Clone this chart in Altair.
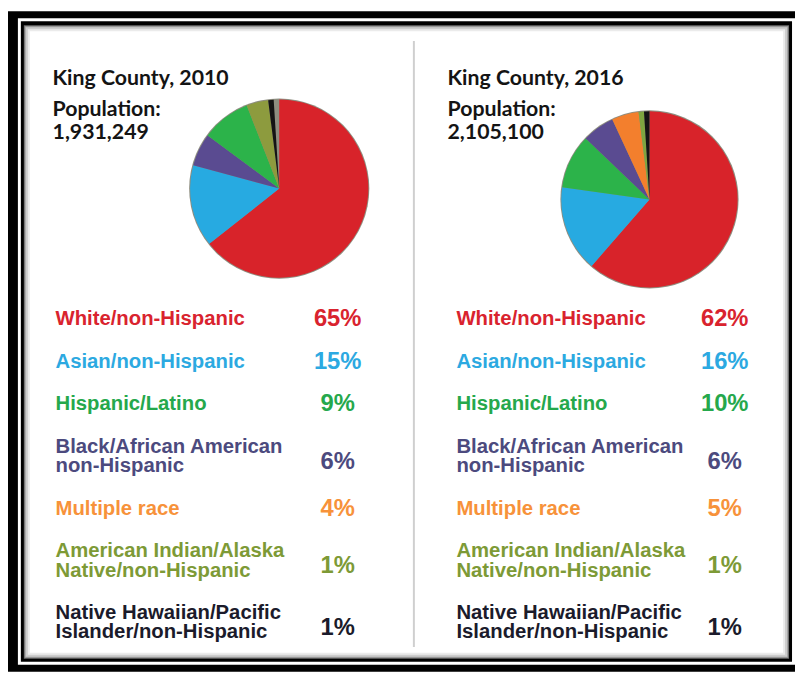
import altair as alt
import pandas as pd

# ---------------- data ----------------
categories = [
    "White/non-Hispanic",
    "Asian/non-Hispanic",
    "Hispanic/Latino",
    "Black/African American\nnon-Hispanic",
    "Multiple race",
    "American Indian/Alaska\nNative/non-Hispanic",
    "Native Hawaiian/Pacific\nIslander/non-Hispanic",
]
pct_2010 = [65, 15, 9, 6, 4, 1, 1]
pct_2016 = [62, 16, 10, 6, 5, 1, 1]
populations = {2010: 1931249, 2016: 2105100}

label_colors = ["#d9232e", "#2ca9e1", "#25a84c", "#4c4a7e", "#f7923a", "#7d9a36", "#1b1b2b"]

# slice order of each pie, clockwise from 12 o'clock
pie_2010_order = [
    "White/non-Hispanic", "Asian/non-Hispanic", "Black/African American\nnon-Hispanic",
    "Hispanic/Latino", "Multiple race", "Native Hawaiian/Pacific\nIslander/non-Hispanic",
]
pie_2010_colors = ["#d8232a", "#27aae1", "#5a4b91", "#2cb34a", "#8d9b3e", "#141414"]
pie_2016_order = [
    "White/non-Hispanic", "Asian/non-Hispanic", "Hispanic/Latino",
    "Black/African American\nnon-Hispanic", "Multiple race",
    "American Indian/Alaska\nNative/non-Hispanic", "Native Hawaiian/Pacific\nIslander/non-Hispanic",
]
pie_2016_colors = ["#d8232a", "#27aae1", "#2cb34a", "#5a4b91", "#f37f2d", "#7ea540", "#141414"]

# ---------------- tables ----------------
pct_by_year = {2010: dict(zip(categories, pct_2010)), 2016: dict(zip(categories, pct_2016))}

# text layout: lines inside a label are LH apart, label blocks are GAP apart
LH, GAP = 19.5, 43
rows = []
for year, vals in ((2010, pct_2010), (2016, pct_2016)):
    first = 0.0
    for i, (cat, v) in enumerate(zip(categories, vals)):
        lines = cat.count("\n") + 1
        rows.append({"year": year, "idx": i, "category": cat, "pct": v,
                     "label": f"{v}%",
                     "slot": first + 1,
                     "pslot": first + 15 * (lines - 1) + 1})
        first += (lines - 1) * LH + GAP
rows_df = pd.DataFrame(rows)

pie10 = pd.DataFrame({"slice": pie_2010_order,
                      "value": [pct_by_year[2010][c] for c in pie_2010_order],
                      "idx": list(range(len(pie_2010_order)))})
pie16 = pd.DataFrame({"slice": pie_2016_order,
                      "value": [pct_by_year[2016][c] for c in pie_2016_order],
                      "idx": list(range(len(pie_2016_order)))})

deco = pd.DataFrame({"a": [0]})

W, H = 795, 667


def rect(x, y, x2, y2, color):
    return alt.Chart(deco).mark_rect(color=color).encode(
        x=alt.value(x), x2=alt.value(x2), y=alt.value(y), y2=alt.value(y2))


def text(t, x, y, size, color="#141414"):
    return alt.Chart(deco).mark_text(
        text=t, align="left", baseline="alphabetic", font="Lato",
        fontWeight="bold", fontSize=size, color=color).encode(x=alt.value(x), y=alt.value(y))


layers = [
    rect(0, 0, W, H, "#000000"),
    rect(10, 7, W, 660, "#ffffff"),
    rect(13, 10, 792, 657, "#000000"),
    rect(16, 14, 789, 654, "#6f6f6f"),
    rect(17, 15, 788, 653, "#a5a5a5"),
    rect(18, 16, 787, 652, "#cdcdcd"),
    rect(20, 18, 785, 650, "#ebebeb"),
    rect(22, 20, 783, 648, "#ffffff"),
    alt.Chart(deco).mark_rule(color="#cfcfcf", strokeWidth=2).encode(
        x=alt.value(410), y=alt.value(30), y2=alt.value(642)),
]

pie_centers = {2010: (274, 179, 90), 2016: (648, 190, 89)}
head_x = {2010: 45, 2016: 444}
for year, pdf, order, cols in ((2010, pie10, pie_2010_order, pie_2010_colors),
                               (2016, pie16, pie_2016_order, pie_2016_colors)):
    cx, cy, r = pie_centers[year]
    layers.append(
        alt.Chart(deco).mark_arc(radius=r + 1, theta=0, theta2=6.2832, color="#8e8e80")
        .encode(x=alt.value(cx), y=alt.value(cy)))
    layers.append(
        alt.Chart(pdf).mark_arc(radius=r).encode(
            theta=alt.Theta("value:Q", stack=True),
            order=alt.Order("idx:Q", sort="ascending"),
            color=alt.Color("slice:N", scale=alt.Scale(domain=order, range=cols), legend=None),
            x=alt.value(cx), y=alt.value(cy)))
    hx = head_x[year]
    layers.append(text(f"King County, {year}", hx, 74, 21.5))
    layers.append(text("Population:", hx, 106, 21.5))
    layers.append(text(f"{populations[year]:,}", hx, 129, 21.5))

yscale = alt.Scale(domain=[0, 400], range=[310, 710])
label_x = {2010: 48, 2016: 453}
pct_x = {2010: 333, 2016: 724}
for year in (2010, 2016):
    base = alt.Chart(rows_df).transform_filter(alt.datum.year == year)
    layers.append(
        base.mark_text(align="left", baseline="middle", font="Liberation Sans",
                       fontWeight="bold", fontSize=20.5, lineBreak="\n", lineHeight=LH)
        .encode(x=alt.value(label_x[year]),
                y=alt.Y("slot:Q", scale=yscale, axis=None),
                text="category:N",
                color=alt.Color("category:N",
                                scale=alt.Scale(domain=categories, range=label_colors),
                                legend=None)))
    layers.append(
        base.mark_text(align="center", baseline="middle", font="Liberation Sans",
                       fontWeight="bold", fontSize=24)
        .encode(x=alt.value(pct_x[year]),
                y=alt.Y("pslot:Q", scale=yscale, axis=None),
                text="label:N",
                color=alt.Color("category:N",
                                scale=alt.Scale(domain=categories, range=label_colors),
                                legend=None)))

chart = (
    alt.layer(*layers)
    .resolve_scale(color="independent")
    .properties(width=W, height=H, padding=0, autosize=alt.AutoSizeParams(type="none"))
    .configure_view(stroke=None)
)

chart.save("out.html", embed_options={"renderer": "svg", "actions": False})
